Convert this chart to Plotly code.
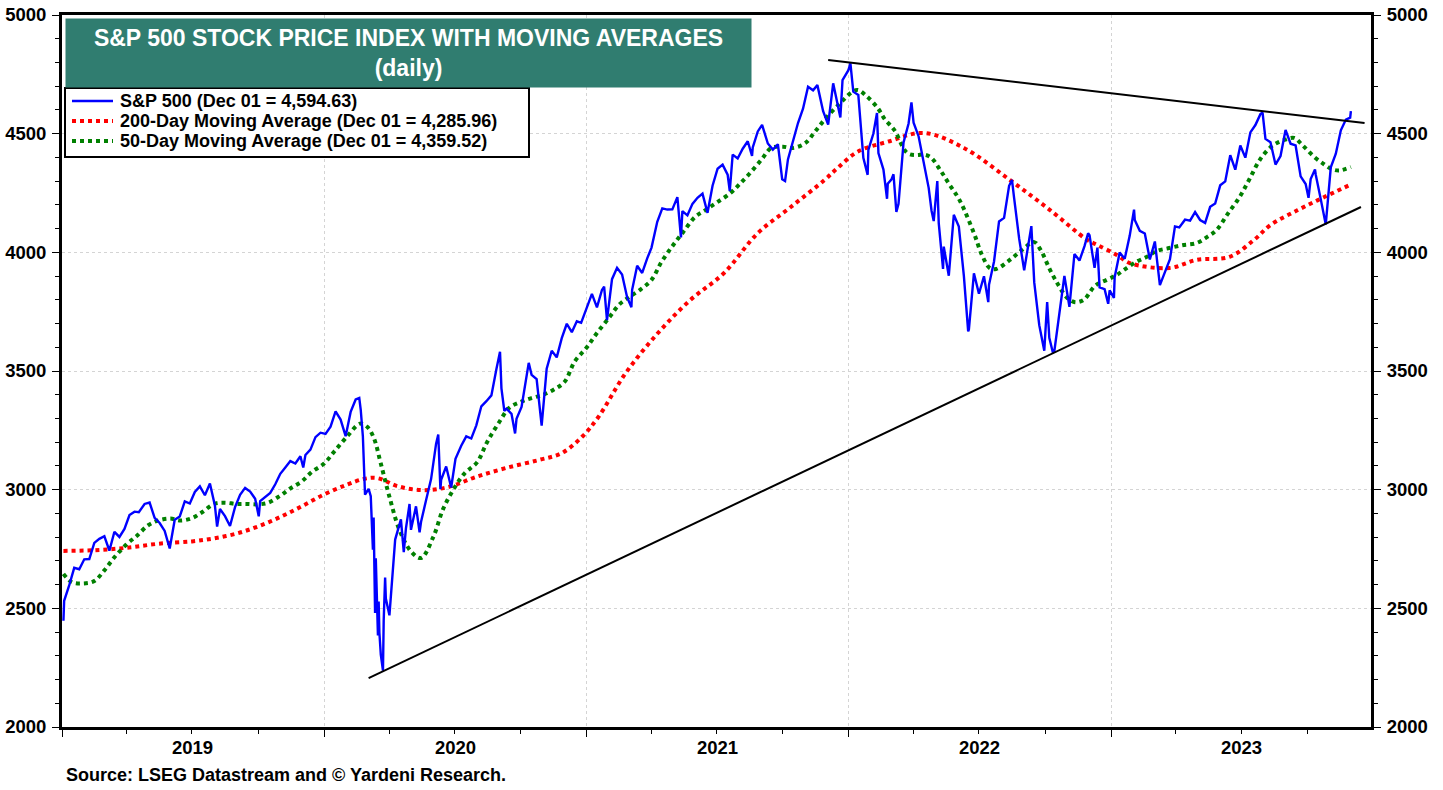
import plotly.graph_objects as go

# ---------------- DATA ----------------
spx_dates = [
    "2019-01-03", "2019-01-04", "2019-01-11", "2019-01-18", "2019-01-25", "2019-02-01", "2019-02-08", "2019-02-15",
    "2019-02-22", "2019-03-01", "2019-03-08", "2019-03-15", "2019-03-22", "2019-03-29", "2019-04-05", "2019-04-12",
    "2019-04-18", "2019-04-26", "2019-05-03", "2019-05-10", "2019-05-17", "2019-05-24", "2019-05-31", "2019-06-07",
    "2019-06-14", "2019-06-21", "2019-06-28", "2019-07-05", "2019-07-12", "2019-07-19", "2019-07-26", "2019-08-02",
    "2019-08-05", "2019-08-09", "2019-08-16", "2019-08-23", "2019-08-30", "2019-09-06", "2019-09-13", "2019-09-20",
    "2019-09-27", "2019-10-02", "2019-10-04", "2019-10-11", "2019-10-18", "2019-10-25", "2019-11-01", "2019-11-08",
    "2019-11-15", "2019-11-22", "2019-11-29", "2019-12-03", "2019-12-06", "2019-12-13", "2019-12-20", "2019-12-27",
    "2020-01-03", "2020-01-10", "2020-01-17", "2020-01-24", "2020-01-31", "2020-02-07", "2020-02-14", "2020-02-19",
    "2020-02-21", "2020-02-24", "2020-02-27", "2020-03-03", "2020-03-06", "2020-03-09", "2020-03-10", "2020-03-12",
    "2020-03-13", "2020-03-16", "2020-03-17", "2020-03-18", "2020-03-20", "2020-03-23", "2020-03-24", "2020-03-26",
    "2020-03-27", "2020-04-01", "2020-04-06", "2020-04-09", "2020-04-17", "2020-04-21", "2020-04-24", "2020-04-29",
    "2020-05-01", "2020-05-08", "2020-05-13", "2020-05-15", "2020-05-22", "2020-05-29", "2020-06-05", "2020-06-08",
    "2020-06-11", "2020-06-12", "2020-06-19", "2020-06-26", "2020-07-02", "2020-07-10", "2020-07-17", "2020-07-24",
    "2020-07-31", "2020-08-07", "2020-08-14", "2020-08-21", "2020-08-28", "2020-09-02", "2020-09-04", "2020-09-08",
    "2020-09-11", "2020-09-18", "2020-09-23", "2020-09-25", "2020-10-02", "2020-10-09", "2020-10-12", "2020-10-16",
    "2020-10-23", "2020-10-30", "2020-11-06", "2020-11-13", "2020-11-20", "2020-11-27", "2020-12-04", "2020-12-11",
    "2020-12-18", "2020-12-24", "2020-12-31", "2021-01-08", "2021-01-15", "2021-01-22", "2021-01-25", "2021-01-29",
    "2021-02-05", "2021-02-12", "2021-02-19", "2021-02-26", "2021-03-04", "2021-03-05", "2021-03-12", "2021-03-19",
    "2021-03-26", "2021-04-01", "2021-04-09", "2021-04-16", "2021-04-23", "2021-04-30", "2021-05-07", "2021-05-12",
    "2021-05-14", "2021-05-21", "2021-05-28", "2021-06-04", "2021-06-11", "2021-06-18", "2021-06-25", "2021-07-02",
    "2021-07-09", "2021-07-16", "2021-07-19", "2021-07-23", "2021-07-30", "2021-08-06", "2021-08-13", "2021-08-19",
    "2021-08-20", "2021-08-27", "2021-09-02", "2021-09-10", "2021-09-17", "2021-09-24", "2021-09-30", "2021-10-04",
    "2021-10-08", "2021-10-15", "2021-10-22", "2021-10-29", "2021-11-05", "2021-11-12", "2021-11-18", "2021-11-26",
    "2021-11-30", "2021-12-03", "2021-12-10", "2021-12-17", "2021-12-20", "2021-12-23", "2021-12-31", "2022-01-03",
    "2022-01-07", "2022-01-14", "2022-01-21", "2022-01-27", "2022-01-28", "2022-02-04", "2022-02-09", "2022-02-11",
    "2022-02-18", "2022-02-23", "2022-02-24", "2022-03-01", "2022-03-04", "2022-03-08", "2022-03-11", "2022-03-18",
    "2022-03-25", "2022-03-29", "2022-04-01", "2022-04-08", "2022-04-14", "2022-04-22", "2022-04-26", "2022-04-29",
    "2022-05-04", "2022-05-06", "2022-05-12", "2022-05-13", "2022-05-20", "2022-05-27", "2022-06-03", "2022-06-10",
    "2022-06-16", "2022-06-17", "2022-06-24", "2022-07-01", "2022-07-08", "2022-07-14", "2022-07-15", "2022-07-22",
    "2022-07-29", "2022-08-05", "2022-08-12", "2022-08-16", "2022-08-19", "2022-08-26", "2022-09-02", "2022-09-09",
    "2022-09-12", "2022-09-16", "2022-09-23", "2022-09-30", "2022-10-04", "2022-10-07", "2022-10-12", "2022-10-14",
    "2022-10-21", "2022-10-28", "2022-11-04", "2022-11-11", "2022-11-18", "2022-11-25", "2022-11-30", "2022-12-02",
    "2022-12-09", "2022-12-13", "2022-12-16", "2022-12-23", "2022-12-28", "2022-12-30", "2023-01-05", "2023-01-06",
    "2023-01-13", "2023-01-20", "2023-01-27", "2023-02-02", "2023-02-03", "2023-02-10", "2023-02-17", "2023-02-24",
    "2023-03-03", "2023-03-10", "2023-03-17", "2023-03-24", "2023-03-31", "2023-04-06", "2023-04-14", "2023-04-21",
    "2023-04-28", "2023-05-05", "2023-05-12", "2023-05-19", "2023-05-26", "2023-06-02", "2023-06-09", "2023-06-16",
    "2023-06-23", "2023-06-30", "2023-07-07", "2023-07-14", "2023-07-21", "2023-07-28", "2023-07-31", "2023-08-04",
    "2023-08-11", "2023-08-18", "2023-08-25", "2023-09-01", "2023-09-08", "2023-09-15", "2023-09-22", "2023-09-29",
    "2023-10-03", "2023-10-06", "2023-10-12", "2023-10-13", "2023-10-20", "2023-10-27", "2023-11-03", "2023-11-10",
    "2023-11-17", "2023-11-24", "2023-11-30", "2023-12-01",
]
spx_values = [
    2447.89, 2531.94, 2596.26, 2670.71, 2664.76, 2706.53, 2707.88, 2775.60,
    2792.67, 2803.69, 2743.07, 2822.48, 2800.71, 2834.40, 2892.74, 2907.41,
    2905.03, 2939.88, 2945.64, 2881.40, 2859.53, 2826.06, 2752.06, 2873.34,
    2886.98, 2950.46, 2941.76, 2990.41, 3013.77, 2976.61, 3025.86, 2932.05,
    2844.74, 2918.65, 2888.68, 2847.11, 2926.46, 2978.71, 3007.39, 2992.07,
    2961.79, 2887.61, 2952.01, 2970.27, 2986.20, 3022.55, 3066.91, 3093.08,
    3120.46, 3110.29, 3140.98, 3093.20, 3145.91, 3168.80, 3221.22, 3240.02,
    3234.85, 3265.35, 3329.62, 3295.47, 3225.52, 3327.71, 3380.16, 3386.15,
    3337.75, 3225.89, 2978.76, 3003.37, 2972.37, 2746.56, 2882.23, 2480.64,
    2711.02, 2386.13, 2529.19, 2398.10, 2304.92, 2237.40, 2447.33, 2630.07,
    2541.47, 2470.50, 2663.68, 2789.82, 2874.56, 2736.56, 2836.74, 2939.51,
    2830.71, 2929.80, 2820.00, 2863.70, 2955.45, 3044.31, 3193.93, 3232.39,
    3002.10, 3041.31, 3097.74, 3009.05, 3130.01, 3185.04, 3224.73, 3215.63,
    3271.12, 3351.28, 3372.85, 3397.16, 3508.01, 3580.84, 3426.96, 3331.84,
    3340.97, 3319.47, 3236.92, 3298.46, 3348.44, 3477.13, 3534.22, 3483.81,
    3465.39, 3269.96, 3509.44, 3585.15, 3557.54, 3638.35, 3699.12, 3663.46,
    3709.41, 3703.06, 3756.07, 3824.68, 3768.25, 3841.47, 3855.36, 3714.24,
    3886.83, 3934.83, 3906.71, 3811.15, 3768.47, 3841.94, 3943.34, 3913.10,
    3974.54, 4019.87, 4128.80, 4185.47, 4180.17, 4181.17, 4232.60, 4063.04,
    4173.85, 4155.86, 4204.11, 4229.89, 4247.44, 4166.45, 4280.70, 4352.34,
    4369.55, 4327.16, 4258.49, 4411.79, 4395.26, 4436.52, 4468.00, 4405.80,
    4441.67, 4509.37, 4536.95, 4458.58, 4432.99, 4455.48, 4307.54, 4300.46,
    4391.34, 4471.37, 4544.90, 4605.38, 4697.53, 4682.85, 4704.54, 4594.62,
    4567.00, 4538.43, 4712.02, 4620.64, 4568.02, 4725.79, 4766.18, 4796.56,
    4677.03, 4662.85, 4397.94, 4326.51, 4431.85, 4500.53, 4587.18, 4418.64,
    4348.87, 4225.50, 4288.70, 4306.26, 4328.87, 4170.70, 4204.31, 4463.12,
    4543.06, 4631.60, 4545.86, 4488.28, 4392.59, 4271.78, 4175.20, 4131.93,
    4300.17, 4123.34, 3930.08, 4023.89, 3901.36, 4158.24, 4108.54, 3900.86,
    3666.77, 3674.84, 3911.74, 3825.33, 3899.38, 3790.38, 3863.16, 3961.63,
    4130.29, 4145.19, 4280.15, 4305.20, 4228.48, 4057.66, 3924.26, 4067.36,
    4110.41, 3873.33, 3693.23, 3585.62, 3790.93, 3639.66, 3577.03, 3583.07,
    3752.75, 3901.06, 3770.55, 3992.93, 3965.34, 4026.12, 4080.11, 4071.70,
    3934.38, 4019.65, 3852.36, 3844.82, 3783.22, 3839.50, 3808.10, 3895.08,
    3999.09, 3972.61, 4070.56, 4179.76, 4136.48, 4090.46, 4079.09, 3970.04,
    4045.64, 3861.59, 3916.64, 3970.99, 4109.31, 4105.02, 4137.64, 4133.52,
    4169.48, 4136.25, 4124.08, 4191.98, 4205.45, 4282.37, 4298.86, 4409.59,
    4348.33, 4450.38, 4398.95, 4505.42, 4536.34, 4582.23, 4588.96, 4478.03,
    4464.05, 4369.71, 4405.71, 4515.77, 4457.49, 4450.32, 4320.06, 4288.05,
    4229.45, 4308.50, 4349.61, 4327.78, 4224.16, 4117.37, 4358.34, 4415.24,
    4514.02, 4559.34, 4567.80, 4594.63,
]

ma50_dates = [
    "2019-01-03", "2019-01-15", "2019-01-31", "2019-02-15", "2019-03-01", "2019-03-15", "2019-04-01", "2019-04-15",
    "2019-05-01", "2019-05-15", "2019-06-01", "2019-06-15", "2019-07-01", "2019-07-15", "2019-08-01", "2019-08-15",
    "2019-09-01", "2019-09-15", "2019-10-01", "2019-10-15", "2019-11-01", "2019-11-15", "2019-12-01", "2019-12-15",
    "2020-01-01", "2020-01-15", "2020-02-01", "2020-02-20", "2020-03-01", "2020-03-10", "2020-03-20", "2020-04-01",
    "2020-04-15", "2020-05-01", "2020-05-15", "2020-06-01", "2020-06-15", "2020-07-01", "2020-07-15", "2020-08-01",
    "2020-08-15", "2020-09-01", "2020-09-15", "2020-10-01", "2020-10-15", "2020-11-01", "2020-11-15", "2020-12-01",
    "2020-12-15", "2021-01-01", "2021-01-15", "2021-02-01", "2021-02-15", "2021-03-01", "2021-03-15", "2021-04-01",
    "2021-04-15", "2021-05-01", "2021-05-15", "2021-06-01", "2021-06-15", "2021-07-01", "2021-07-20", "2021-08-01",
    "2021-08-15", "2021-09-01", "2021-09-15", "2021-10-01", "2021-10-15", "2021-11-01", "2021-11-15", "2021-12-01",
    "2021-12-20", "2022-01-05", "2022-01-13", "2022-01-25", "2022-02-10", "2022-02-20", "2022-03-05", "2022-03-23",
    "2022-04-05", "2022-04-15", "2022-04-25", "2022-05-08", "2022-05-20", "2022-06-04", "2022-06-24", "2022-07-05",
    "2022-07-16", "2022-07-25", "2022-08-13", "2022-08-30", "2022-09-16", "2022-09-25", "2022-10-08", "2022-10-20",
    "2022-11-01", "2022-11-12", "2022-11-24", "2022-12-10", "2022-12-26", "2023-01-09", "2023-01-19", "2023-02-05",
    "2023-02-20", "2023-03-05", "2023-03-23", "2023-04-10", "2023-04-30", "2023-05-15", "2023-05-28", "2023-06-12",
    "2023-06-29", "2023-07-13", "2023-07-27", "2023-08-10", "2023-08-20", "2023-09-01", "2023-09-13", "2023-09-25",
    "2023-10-11", "2023-10-25", "2023-11-05", "2023-11-15", "2023-12-01",
]
ma50_values = [
    2645, 2610, 2605, 2615, 2660, 2715, 2770, 2805,
    2850, 2870, 2878, 2870, 2880, 2905, 2940, 2945,
    2940, 2940, 2938, 2945, 2975, 3005, 3035, 3075,
    3110, 3160, 3220, 3278, 3265, 3220, 3110, 2970,
    2830, 2740, 2712, 2800, 2920, 3010, 3070, 3115,
    3200, 3285, 3345, 3370, 3385, 3400, 3420, 3455,
    3540, 3600, 3660, 3725, 3780, 3812, 3840, 3884,
    3960, 4030, 4085, 4150, 4178, 4210, 4250, 4285,
    4330, 4390, 4440, 4445, 4440, 4460, 4510, 4570,
    4629, 4675, 4684, 4660, 4608, 4560, 4516, 4419,
    4410, 4412, 4400, 4347, 4290, 4220, 4081, 3990,
    3934, 3930, 3968, 4010, 4043, 4010, 3926, 3860,
    3808, 3790, 3800, 3860, 3884, 3905, 3926, 3960,
    3981, 4005, 4018, 4030, 4039, 4065, 4094, 4160,
    4233, 4310, 4389, 4440, 4461, 4475, 4482, 4450,
    4402, 4370, 4350, 4345, 4359.52,
]

ma200_dates = [
    "2019-01-03", "2019-02-15", "2019-04-01", "2019-05-15", "2019-07-01", "2019-08-01", "2019-09-01", "2019-10-01",
    "2019-11-01", "2019-12-01", "2020-01-01", "2020-02-01", "2020-02-25", "2020-03-15", "2020-04-12", "2020-05-16",
    "2020-06-22", "2020-07-30", "2020-09-10", "2020-10-26", "2020-11-27", "2020-12-25", "2021-01-17", "2021-02-24",
    "2021-04-10", "2021-05-25", "2021-07-11", "2021-08-27", "2021-10-12", "2021-11-28", "2021-12-16", "2022-01-13",
    "2022-02-24", "2022-04-15", "2022-06-10", "2022-08-13", "2022-10-08", "2022-11-29", "2022-12-13", "2023-01-09",
    "2023-01-27", "2023-03-23", "2023-04-30", "2023-06-15", "2023-07-19", "2023-08-11", "2023-09-18", "2023-10-25",
    "2023-12-01",
]
ma200_values = [
    2742, 2745, 2755, 2772, 2782, 2795, 2815, 2845,
    2885, 2930, 2980, 3020, 3045, 3049, 3015, 2998,
    3011, 3053, 3091, 3125, 3154, 3222, 3306, 3491,
    3660, 3799, 3913, 4081, 4191, 4305, 4355, 4424,
    4466, 4503, 4440, 4305, 4178, 4052, 4031, 3989,
    3955, 3934, 3968, 3981, 4052, 4115, 4178, 4233,
    4285.96,
]

# hand-drawn trend lines (end points)
lower_trend_dates = ["2020-03-03", "2023-12-15"]
lower_trend_values = [2206, 4191]
upper_trend_dates = ["2021-12-03", "2023-12-20"]
upper_trend_values = [4810, 4545]

year_labels = ["2019", "2020", "2021", "2022", "2023"]
year_starts = ["2019-01-01", "2020-01-01", "2021-01-01", "2022-01-01", "2023-01-01"]
year_mids = ["2019-07-02", "2020-07-02", "2021-07-02", "2022-07-02", "2023-07-02"]
quarter_ticks = [f"{y}-{m}-01" for y in range(2019, 2024) for m in ("04", "07", "10")]
y_ticks = [2000, 2500, 3000, 3500, 4000, 4500, 5000]

assert len(spx_dates) == len(spx_values)
assert len(ma50_dates) == len(ma50_values)
assert len(ma200_dates) == len(ma200_values)

FONT = "Arial, 'Liberation Sans', sans-serif"
BLUE, RED, GREEN = "#0000FF", "#FF0000", "#008000"

spx_name = f"S&P 500 (Dec 01 = {spx_values[-1]:,.2f})"
ma200_name = f"200-Day Moving Average (Dec 01 = {ma200_values[-1]:,.2f})"
ma50_name = f"50-Day Moving Average (Dec 01 = {ma50_values[-1]:,.2f})"

fig = go.Figure()

fig.add_trace(go.Scatter(
    x=ma200_dates, y=ma200_values, mode="lines", line_shape="spline",
    line=dict(color=RED, width=4, dash="dot"), name=ma200_name, showlegend=False,
))
fig.add_trace(go.Scatter(
    x=ma50_dates, y=ma50_values, mode="lines", line_shape="spline",
    line=dict(color=GREEN, width=4, dash="dot"), name=ma50_name, showlegend=False,
))
fig.add_trace(go.Scatter(
    x=spx_dates, y=spx_values, mode="lines",
    line=dict(color=BLUE, width=2.4), name=spx_name, showlegend=False,
))
fig.add_trace(go.Scatter(
    x=lower_trend_dates, y=lower_trend_values, mode="lines", yaxis="y2",
    line=dict(color="black", width=2), showlegend=False, hoverinfo="skip",
))
fig.add_trace(go.Scatter(
    x=upper_trend_dates, y=upper_trend_values, mode="lines", yaxis="y2",
    line=dict(color="black", width=2), showlegend=False, hoverinfo="skip",
))

tickfont = dict(family=FONT, size=18.5, color="black", weight="bold")
yaxis_common = dict(
    range=[2000, 5000], tickmode="array", tickvals=y_ticks,
    ticks="outside", ticklen=7, tickwidth=1, tickcolor="black",
    showline=True, linewidth=3, linecolor="black", zeroline=False,
    tickfont=tickfont, automargin=False, ticklabelstandoff=2,
    ticklabeloverflow="allow",
    minor=dict(dtick=100, ticks="outside", ticklen=4, tickwidth=1, tickcolor="black", showgrid=False),
)

# plot area spans x 62..1371, y 15..727 of the 1443x790 page (body margin removed below)
W, H = 1443, 790
ML, MR, MT, MB = 62, 72, 15, 63
PLOT_W = W - ML - MR
PLOT_H = H - MT - MB


def px_x(px):
    return (px - ML) / PLOT_W


def px_y(py):
    return (H - MB - py) / PLOT_H


fig.update_layout(
    width=W, height=H,
    margin=dict(l=ML, r=MR, t=MT, b=MB, autoexpand=False),
    paper_bgcolor="white", plot_bgcolor="white",
    font=dict(family=FONT, color="black"),
    showlegend=False,
    xaxis=dict(
        type="date", range=["2019-01-01", "2023-12-29"],
        tickmode="array", tickvals=year_starts, ticktext=[""] * len(year_starts),
        ticks="outside", ticklen=7, tickwidth=1, tickcolor="black",
        showline=True, linewidth=3, linecolor="black", mirror=True,
        showgrid=True, gridcolor="#d4d4d4", griddash="dot", gridwidth=1,
        zeroline=False, automargin=False,
        minor=dict(tickmode="array", tickvals=quarter_ticks, ticks="outside",
                   ticklen=4, tickwidth=1, tickcolor="black", showgrid=False),
    ),
    yaxis=dict(showgrid=True, gridcolor="#d4d4d4", griddash="dot", gridwidth=1, **yaxis_common),
    yaxis2=dict(overlaying="y", side="right", showgrid=False, **yaxis_common),
)

# title box
fig.add_annotation(
    xref="paper", yref="paper", x=px_x(65), y=px_y(18), xanchor="left", yanchor="top",
    text="S&P 500 STOCK PRICE INDEX WITH MOVING AVERAGES<br>(daily)",
    showarrow=False, align="center", width=683, height=66,
    bgcolor="#307D70", borderpad=1,
    font=dict(family=FONT, size=23, color="white", weight="bold"),
)

# legend box (drawn to match the original's compact layout)
fig.add_shape(
    type="rect", xref="paper", yref="paper",
    x0=px_x(65), x1=px_x(529), y0=px_y(157), y1=px_y(88),
    line=dict(color="black", width=2), fillcolor="white", layer="above",
)
legend_rows = [
    (spx_name, BLUE, "solid", 2.4, 101),
    (ma200_name, RED, "dot", 4, 121),
    (ma50_name, GREEN, "dot", 4, 141),
]
for name, color, dash, width, row_y in legend_rows:
    fig.add_shape(
        type="line", xref="paper", yref="paper",
        x0=px_x(72), x1=px_x(113), y0=px_y(row_y), y1=px_y(row_y),
        line=dict(color=color, width=width, dash=dash), layer="above",
    )
    fig.add_annotation(
        xref="paper", yref="paper", x=px_x(118), y=px_y(row_y),
        xanchor="left", yanchor="middle", text=name, showarrow=False,
        font=dict(family=FONT, size=18, color="black", weight="bold"),
    )

# year labels centred within each year
for lab, mid in zip(year_labels, year_mids):
    fig.add_annotation(
        x=mid, xref="x", yref="paper", y=0, yanchor="top", yshift=-8,
        text=lab, showarrow=False, font=tickfont,
    )

# source line
fig.add_annotation(
    xref="paper", yref="paper", x=px_x(64), y=px_y(775), xanchor="left", yanchor="middle",
    text="Source: LSEG Datastream and © Yardeni Research.", showarrow=False,
    font=dict(family=FONT, size=18, color="black", weight="bold"),
)

fig.write_html(
    "out.html",
    config={"displayModeBar": False},
    post_script="document.body.style.margin='0px'; document.body.style.overflow='hidden';",
)
